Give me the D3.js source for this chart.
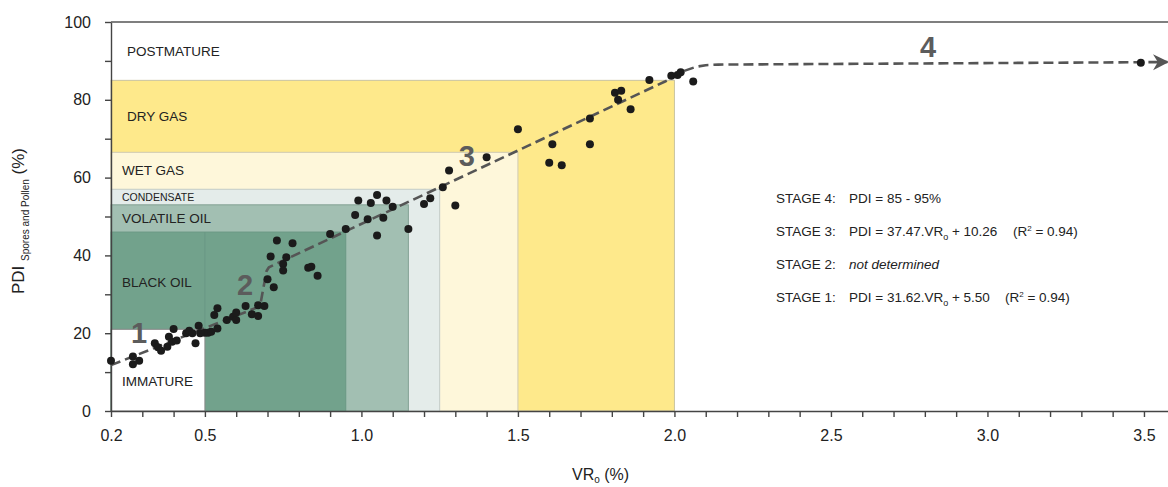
<!DOCTYPE html>
<html>
<head>
<meta charset="utf-8">
<script src="https://cdn.jsdelivr.net/npm/d3@7"></script>
<style>
  body { margin: 0; background: #fff; }
  text { font-family: "Liberation Sans", Arial, sans-serif; fill: #222; }
  .axis text { font-size: 16px; fill: #222; }
  .axis path, .axis line { stroke: #444; stroke-width: 1.4; }
</style>
</head>
<body>
<div id="chart"></div>
<script>
// svg container
var svgWidth = 1168;
var svgHeight = 487;

var margin = { top: 22, right: 0, bottom: 76, left: 111 };
var height = svgHeight - margin.top - margin.bottom;
var width = svgWidth - margin.left - margin.right;

// measured samples: vitrinite reflectance (%) and PDI (%)
var vrValues = [0.20, 0.27, 0.27, 0.29, 0.34, 0.35, 0.36, 0.38, 0.385, 0.395, 0.40, 0.41,
  0.44, 0.45, 0.46, 0.47, 0.48, 0.485, 0.50, 0.51, 0.52, 0.54, 0.53, 0.54, 0.57, 0.59,
  0.60, 0.60, 0.63, 0.65, 0.67, 0.67, 0.69, 0.70, 0.72, 0.71, 0.73, 0.78, 0.76, 0.75,
  0.75, 0.83, 0.84, 0.86, 0.90, 0.95, 0.98, 0.99, 1.02, 1.03, 1.05, 1.07, 1.08, 1.10,
  1.05, 1.15, 1.20, 1.22, 1.26, 1.30, 1.28, 1.40, 1.50, 1.61, 1.60, 1.64, 1.73, 1.73,
  1.81, 1.83, 1.82, 1.86, 1.92, 1.99, 2.01, 2.02, 2.06, 3.49];
var pdiValues = [12.9, 14.0, 12.0, 12.9, 17.4, 16.4, 15.5, 16.5, 19.1, 17.8, 21.1, 18.1,
  20.0, 20.6, 20.0, 17.4, 21.9, 20.0, 20.1, 20.1, 20.4, 21.2, 24.7, 26.4, 23.4, 24.2,
  25.3, 23.4, 27.0, 24.9, 24.4, 27.2, 27.0, 33.9, 31.8, 39.7, 43.8, 43.1, 39.5, 37.8,
  36.1, 36.8, 37.1, 34.8, 45.5, 46.8, 50.4, 54.1, 49.3, 53.5, 55.5, 49.7, 54.1, 52.5,
  45.1, 46.8, 53.2, 54.7, 57.5, 52.8, 61.8, 65.2, 72.4, 68.6, 63.8, 63.2, 75.2, 68.6,
  81.8, 82.3, 80.0, 77.6, 85.1, 86.2, 86.4, 87.1, 84.7, 89.5];

// dashed trend: stage 1, stage 2 step, stage 3, bend into stage 4
var trendVr  = [0.20, 0.676, 0.697, 0.704, 0.714, 1.97, 2.03, 2.07, 2.10, 2.14, 3.575];
var trendPdi = [11.8, 26.9, 36.0, 36.9, 37.3, 84.7, 87.4, 88.5, 88.9, 89.05, 89.7];

// maturity zones (each box runs from VR 0.2 / PDI 0 up to its limits)
var zoneNames  = ["DRY GAS", "WET GAS", "CONDENSATE", "VOLATILE OIL", "BLACK OIL", "IMMATURE"];
var zoneVrMax  = [2.0, 1.5, 1.25, 1.15, 0.95, 0.5];
var zonePdiMax = [85, 66.5, 57, 53, 46, 21];
var zoneLabelPdi = [75.8, 61.8, 55, 49.6, 33.2, 7.6];
var zoneFill   = ["#fee98b", "#fef7da", "#e4ecea", "#a2bfb2", "#72a28c", "#ffffff"];
var zoneStroke = ["#c9c3a0", "#cfcab4", "#c2cbc8", "#83a193", "#6a9884", "#888888"];

var xTicks = [0.2, 0.5, 1.0, 1.5, 2.0, 2.5, 3.0, 3.5];
var yTicks = [0, 20, 40, 60, 80, 100];

var stageLabels = [["1", 0.29, 17.5], ["2", 0.628, 29.8], ["3", 1.337, 63.0], ["4", 2.81, 91.0]];

var svg = d3.select("#chart")
  .append("svg")
  .attr("width", svgWidth)
  .attr("height", svgHeight);

var chartGroup = svg.append("g")
  .attr("transform", `translate(${margin.left}, ${margin.top})`);

var xLinearScale = d3.scaleLinear().domain([0.2, 3.58]).range([0, width + 1]);
var yLinearScale = d3.scaleLinear().domain([0, 100]).range([height, 0]);

// zones
chartGroup.selectAll("rect.zone")
  .data(zoneNames)
  .enter()
  .append("rect")
  .attr("class", "zone")
  .attr("x", xLinearScale(0.2))
  .attr("y", (d, i) => yLinearScale(zonePdiMax[i]))
  .attr("width", (d, i) => xLinearScale(zoneVrMax[i]) - xLinearScale(0.2))
  .attr("height", (d, i) => yLinearScale(0) - yLinearScale(zonePdiMax[i]))
  .attr("fill", (d, i) => zoneFill[i])
  .attr("stroke", (d, i) => zoneStroke[i])
  .attr("stroke-width", 1);

// black oil split at VR 0.5 above immature
chartGroup.append("line")
  .attr("x1", xLinearScale(0.5)).attr("x2", xLinearScale(0.5))
  .attr("y1", yLinearScale(21)).attr("y2", yLinearScale(46))
  .attr("stroke", "#6a9884")
  .attr("stroke-width", 1);

// zone labels
chartGroup.selectAll("text.zoneLabel")
  .data(zoneNames)
  .enter()
  .append("text")
  .attr("class", "zoneLabel")
  .attr("x", (d, i) => i === 0 ? 16 : 11)
  .attr("y", (d, i) => yLinearScale(zoneLabelPdi[i]))
  .attr("dy", "0.36em")
  .style("font-size", d => d === "CONDENSATE" ? "10.5px" : "13.5px")
  .text(d => d);

chartGroup.append("text")
  .attr("x", 16)
  .attr("y", yLinearScale(92.5))
  .attr("dy", "0.36em")
  .style("font-size", "13.5px")
  .text("POSTMATURE");

// axes
var bottomAxis = d3.axisBottom(xLinearScale)
  .tickValues(d3.range(2, 36).map(d => d / 10))
  .tickFormat(d => xTicks.some(t => Math.abs(t - d) < 1e-6) ? d3.format(".1f")(d) : "")
  .tickSize(6)
  .tickSizeOuter(0)
  .tickPadding(13);

var leftAxis = d3.axisLeft(yLinearScale)
  .tickValues(d3.range(0, 101, 10))
  .tickFormat(d => yTicks.indexOf(d) >= 0 ? d : "")
  .tickSize(6)
  .tickSizeOuter(0)
  .tickPadding(14);

chartGroup.append("g")
  .attr("class", "axis")
  .attr("transform", `translate(0, ${height})`)
  .call(bottomAxis);

chartGroup.append("g")
  .attr("class", "axis")
  .call(leftAxis);

// top frame line
chartGroup.append("line")
  .attr("x1", 0).attr("x2", width)
  .attr("y1", yLinearScale(100)).attr("y2", yLinearScale(100))
  .attr("stroke", "#555")
  .attr("stroke-width", 1.6);

// arrow head
svg.append("defs").append("marker")
  .attr("id", "arrow")
  .attr("markerUnits", "userSpaceOnUse")
  .attr("viewBox", "0 0 10 10")
  .attr("refX", 9)
  .attr("refY", 5)
  .attr("markerWidth", 16)
  .attr("markerHeight", 18)
  .attr("orient", "auto")
  .append("path")
  .attr("d", "M0,0 L10,5 L0,10 L3,5 Z")
  .attr("fill", "#555");

// trend line
var trendLine = d3.line()
  .x((d, i) => xLinearScale(trendVr[i]))
  .y((d, i) => yLinearScale(trendPdi[i]));

chartGroup.append("path")
  .datum(trendVr)
  .attr("d", trendLine)
  .attr("fill", "none")
  .attr("stroke", "#555")
  .attr("stroke-width", 2.6)
  .attr("stroke-linejoin", "round")
  .attr("stroke-dasharray", "10,5")
  .attr("marker-end", "url(#arrow)");

// samples
chartGroup.selectAll("circle")
  .data(vrValues)
  .enter()
  .append("circle")
  .attr("cx", d => xLinearScale(d))
  .attr("cy", (d, i) => yLinearScale(pdiValues[i]))
  .attr("r", 4)
  .attr("fill", "#1b1b1b");

// stage numbers
chartGroup.selectAll("text.stage")
  .data(stageLabels)
  .enter()
  .append("text")
  .attr("class", "stage")
  .attr("x", d => xLinearScale(d[1]))
  .attr("y", d => yLinearScale(d[2]))
  .attr("text-anchor", "middle")
  .style("font-size", "29px")
  .style("font-weight", "bold")
  .style("fill", "#5c5c5c")
  .text(d => d[0]);

// equations
var eqGroup = svg.append("g").style("font-size", "13.5px");
var eqRows = [
  { stage: "STAGE 4:", y: 203, parts: [["PDI = 85 - 95%"]] },
  { stage: "STAGE 3:", y: 236, parts: [["PDI = 37.47.VR"], ["o", "sub"], [" + 10.26"]], r2: 1013 },
  { stage: "STAGE 2:", y: 269, italic: "not determined" },
  { stage: "STAGE 1:", y: 302, parts: [["PDI = 31.62.VR"], ["o", "sub"], [" + 5.50"]], r2: 1005 }
];
eqRows.forEach(function(row) {
  eqGroup.append("text").attr("x", 776).attr("y", row.y).text(row.stage);
  var t = eqGroup.append("text").attr("x", 849).attr("y", row.y);
  if (row.italic) {
    t.style("font-style", "italic").text(row.italic);
  } else {
    row.parts.forEach(function(p) {
      if (p[1] === "sub") {
        t.append("tspan").attr("dy", 4).style("font-size", "9px").text(p[0]);
      } else {
        var s = t.append("tspan").text(p[0]);
        if (t.selectAll("tspan").size() > 1) s.attr("dy", -4);
      }
    });
  }
  if (row.r2) {
    var r = eqGroup.append("text").attr("x", row.r2).attr("y", row.y);
    r.append("tspan").text("(R");
    r.append("tspan").attr("dy", -5).style("font-size", "8px").text("2");
    r.append("tspan").attr("dy", 5).text(" = 0.94)");
  }
});

// y axis label
var yLabel = svg.append("text")
  .attr("transform", "translate(24, 294) rotate(-90)")
  .style("font-size", "17px");
yLabel.append("tspan").text("PDI ");
yLabel.append("tspan").attr("dy", 5).style("font-size", "10px").text("Spores and Pollen");
yLabel.append("tspan").attr("dy", -5).text(" (%)");

// x axis label
var xLabel = svg.append("text")
  .attr("x", 572)
  .attr("y", 480)
  .style("font-size", "16px");
xLabel.append("tspan").text("VR");
xLabel.append("tspan").attr("dy", 3).style("font-size", "10px").text("o");
xLabel.append("tspan").attr("dy", -3).text(" (%)");
</script>
</body>
</html>
